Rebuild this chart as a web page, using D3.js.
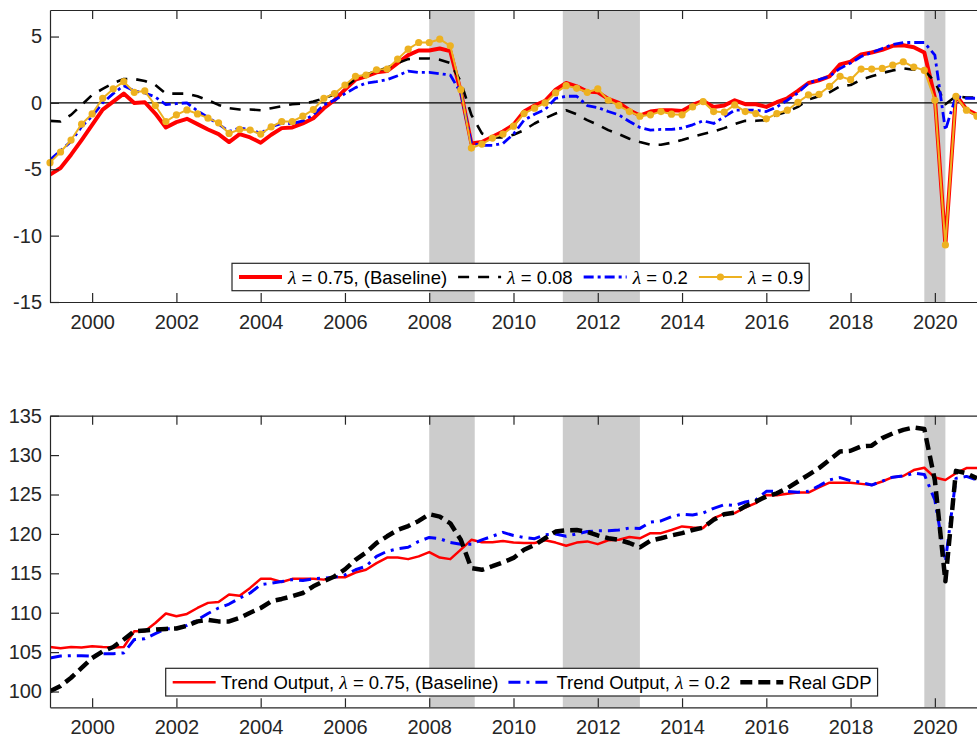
<!DOCTYPE html>
<html><head><meta charset="utf-8">
<script src="https://cdn.jsdelivr.net/npm/d3@7"></script>
<style>
body{margin:0;background:#fff;}
svg{display:block;font-family:"Liberation Sans",Arial,sans-serif;}
</style></head><body>
<svg id="chart" width="977" height="737"></svg>
<script>
// ---------- DATA (quarterly, 1999Q1 .. 2021Q1) ----------
const firstYear = 1999;
const nQuarters = 89;
const quarters = d3.range(nQuarters).map(i => firstYear + i / 4);

const xTicks = [2000, 2002, 2004, 2006, 2008, 2010, 2012, 2014, 2016, 2018, 2020];
const gapTicks = [-15, -10, -5, 0, 5];
const levelTicks = [100, 105, 110, 115, 120, 125, 130, 135];

const recessions = [[2008.0, 2009.08], [2011.17, 2013.0], [2019.75, 2020.25]];

// Top panel: output gap for different lambda
const gap075 = [-5.4, -4.9, -3.9, -2.8, -1.65, -0.5, 0.1, 0.7, 0.0, 0.05, -0.8, -1.85, -1.45, -1.2, -1.6, -2.0, -2.35, -2.95, -2.35, -2.6, -3.0, -2.4, -1.9, -1.85, -1.55, -1.15, -0.4, 0.2, 1.0,
  1.75, 2.0, 2.3, 2.4, 3.0, 3.6, 3.95, 3.95, 4.1, 3.9, 0.85, -3.05, -2.95, -2.55, -2.15, -1.65, -0.65, -0.2, 0.15, 1.0, 1.5, 1.25, 0.85, 0.8, 0.3, 0.0, -0.55, -0.95,
  -0.65, -0.55, -0.55, -0.6, -0.15, 0.15, -0.3, -0.2, 0.2, -0.1, -0.1, -0.3, 0.05, 0.35, 0.9, 1.5, 1.7, 2.0, 2.9, 3.1, 3.65, 3.8, 4.0, 4.3, 4.35, 4.2, 3.8, 0.4, -10.7, 0.6, -0.5, -0.9];
const gap008 = [-1.35, -1.4, -0.9, -0.15, 0.6, 1.05, 1.5, 1.8, 1.8, 1.65, 1.35, 0.7, 0.7, 0.7, 0.5, 0.2, -0.15, -0.4, -0.5, -0.5, -0.55, -0.4, -0.25, -0.1, -0.05, 0.1, 0.35, 0.65, 1.2,
  1.8, 2.15, 2.4, 2.65, 3.0, 3.3, 3.35, 3.35, 3.25, 3.0, 1.6, -0.9, -2.3, -2.6, -2.6, -2.4, -2.05, -1.55, -1.15, -0.8, -0.55, -0.85, -1.3, -1.65, -2.05, -2.35, -2.7, -2.95,
  -3.15, -3.15, -3.0, -2.8, -2.55, -2.35, -2.15, -1.9, -1.6, -1.35, -1.35, -1.3, -0.9, -0.65, -0.3, 0.25, 0.5, 0.8, 1.25, 1.35, 1.75, 2.0, 2.25, 2.45, 2.6, 2.5, 2.45, 1.6, -0.1, 0.5, 0.4, 0.4];
const gap02 = [-4.3, -3.6, -2.9, -1.8, -1.0, 0.0, 0.7, 1.3, 0.9, 0.75, 0.45, -0.13, -0.05, 0.0, -0.6, -1.1, -1.6, -2.15, -1.9, -2.0, -2.3, -1.8, -1.55, -1.55, -1.35, -0.9, -0.15, 0.2, 0.7,
  1.15, 1.5, 1.6, 1.75, 2.05, 2.4, 2.3, 2.3, 2.2, 2.1, 0.75, -3.05, -3.2, -3.2, -3.05, -2.35, -1.3, -0.85, -0.5, 0.35, 0.5, 0.5, -0.2, -0.35, -0.65, -0.9, -1.4, -1.85,
  -2.05, -2.0, -2.0, -1.9, -1.65, -1.35, -1.55, -1.05, -0.55, -0.55, -0.55, -0.65, -0.3, 0.2, 0.75, 1.5, 1.75, 2.0, 2.6, 3.0, 3.5, 3.8, 4.1, 4.4, 4.55, 4.55, 4.55, 3.6, -2.05, 0.5, 0.35, 0.35];
const gap09 = [-4.5, -3.7, -2.8, -1.6, -0.83, 0.35, 1.05, 1.6, 0.8, 0.9, -0.2, -1.4, -0.9, -0.53, -0.83, -1.15, -1.5, -2.3, -2.0, -2.05, -2.35, -1.8, -1.4, -1.4, -1.0, -0.5, 0.35, 0.7, 1.35,
  2.0, 2.1, 2.5, 2.55, 3.3, 4.05, 4.55, 4.55, 4.8, 4.3, 1.0, -3.4, -3.1, -2.65, -2.35, -1.75, -0.8, -0.4, 0.0, 0.75, 1.3, 1.1, 0.8, 1.05, 0.2, -0.2, -0.65, -1.0,
  -0.9, -0.65, -0.85, -0.9, -0.3, 0.1, -0.65, -0.7, -0.15, -0.65, -0.8, -1.2, -0.8, -0.55, 0.05, 0.6, 0.65, 1.25, 2.0, 1.75, 2.55, 2.55, 2.6, 2.85, 3.1, 2.7, 2.45, 0.2, -10.7, 0.5, -0.55, -1.0];

// Bottom panel: trend output and real GDP (index)
const trend075 = [105.66, 105.5, 105.65, 105.6, 105.75, 105.65, 105.6, 105.65, 107.65, 107.65, 108.7, 109.9, 109.55, 109.85, 110.6, 111.25, 111.35, 112.3, 112.15, 113.15, 114.3, 114.3, 113.9, 114.3, 114.3, 114.3, 114.2, 114.5, 114.5,
  115.1, 115.45, 116.3, 117.0, 117.0, 116.8, 117.15, 117.7, 117.0, 116.8, 118.0, 119.25, 118.95, 118.95, 119.1, 118.9, 118.85, 118.85, 119.2, 118.9, 118.5, 118.9, 119.05, 118.7, 119.2, 119.25, 119.6, 119.45,
  120.1, 120.1, 120.5, 120.95, 120.8, 120.75, 122.0, 122.55, 122.65, 123.35, 123.9, 124.95, 124.9, 125.1, 125.25, 125.25, 125.9, 126.5, 126.5, 126.5, 126.35, 126.2, 126.65, 127.2, 127.35, 128.1, 128.4, 127.15, 126.85, 127.7, 128.35, 128.35];
const trend02 = [104.25, 104.5, 104.55, 104.55, 104.5, 104.8, 104.8, 104.9, 106.6, 106.7, 107.35, 107.95, 108.0, 108.4, 109.1, 109.9, 110.6, 111.1, 111.85, 112.5, 113.55, 113.75, 113.95, 114.2, 114.1, 114.3, 114.4, 114.5, 114.8,
  115.45, 115.9, 117.15, 117.8, 118.1, 118.3, 119.05, 119.55, 119.4, 118.9, 118.7, 118.7, 119.25, 119.7, 120.2, 119.8, 119.55, 119.4, 119.9, 120.0, 119.7, 120.0, 120.3, 120.4, 120.4, 120.5, 120.75, 120.7,
  121.5, 121.65, 122.2, 122.5, 122.4, 122.65, 123.25, 123.7, 123.6, 124.05, 124.3, 125.4, 125.4, 125.4, 125.3, 125.4, 126.1, 126.85, 127.15, 126.75, 126.55, 126.2, 126.7, 127.2, 127.35, 127.7, 127.55, 124.3, 116.5, 127.05, 127.3, 126.85];
const realGDP = [100.05, 100.7, 101.75, 103.0, 104.25, 105.1, 105.65, 106.6, 107.65, 107.75, 107.85, 107.95, 108.0, 108.35, 108.9, 109.1, 108.9, 108.9, 109.35, 110.0, 110.6, 111.45, 111.75, 112.1, 112.5, 113.35, 114.0, 114.6, 115.5,
  116.7, 117.65, 118.85, 119.7, 120.5, 121.0, 121.65, 122.5, 122.2, 121.35, 119.25, 115.65, 115.45, 115.9, 116.4, 116.95, 118.0, 118.6, 119.45, 120.3, 120.45, 120.5, 120.25, 119.8, 119.45, 119.25, 118.85, 118.3,
  119.15, 119.45, 119.8, 120.1, 120.5, 120.8, 121.8, 122.5, 122.7, 123.5, 124.1, 124.75, 125.15, 125.8, 126.65, 127.5, 128.35, 129.4, 130.45, 130.55, 131.1, 131.2, 132.15, 132.75, 133.2, 133.5, 133.3, 126.8, 114.0, 128.0, 127.7, 127.05];

// ---------- DRAWING ----------
const svg = d3.select('#chart');
const AX = '#262626';
const x = d3.scaleLinear().domain([1999, 2021]).range([50, 977]);

const topSeries = [
  {values: gap075, color: '#ff0000', width: 4, dash: null, label: [['λ', true], [' = 0.75, (Baseline)', false]]},
  {values: gap008, color: '#000000', width: 2.6, dash: '11,9', label: [['λ', true], [' = 0.08', false]]},
  {values: gap02, color: '#0000ff', width: 2.8, dash: '10,4,3,4', label: [['λ', true], [' = 0.2', false]]},
  {values: gap09, color: '#EDB120', width: 2, dash: null, marker: true, label: [['λ', true], [' = 0.9', false]]}
];
const botSeries = [
  {values: trend075, color: '#ff0000', width: 2.5, dash: null, label: [['Trend Output,  ', false], ['λ', true], [' = 0.75, (Baseline)', false]]},
  {values: trend02, color: '#0000ff', width: 3, dash: '12,6,3,6', label: [['Trend Output,  ', false], ['λ', true], [' = 0.2', false]]},
  {values: realGDP, color: '#000000', width: 4.5, dash: '12,6', label: [['Real GDP', false]]}
];

function drawPanel(cfg) {
  const g = svg.append('g');
  const y = d3.scaleLinear().domain(cfg.yDomain).range([cfg.bottom, cfg.top]);
  const clipId = 'clip' + cfg.id;
  g.append('clipPath').attr('id', clipId).append('rect')
    .attr('x', x.range()[0]).attr('y', cfg.top)
    .attr('width', x.range()[1] - x.range()[0]).attr('height', cfg.bottom - cfg.top);

  g.selectAll('rect.rec').data(recessions).join('rect').attr('class', 'rec')
    .attr('x', d => x(d[0])).attr('width', d => x(d[1]) - x(d[0]))
    .attr('y', cfg.top).attr('height', cfg.bottom - cfg.top).attr('fill', '#cccccc');

  if (cfg.zeroLine) {
    g.append('line').attr('x1', x.range()[0]).attr('x2', x.range()[1])
      .attr('y1', y(0)).attr('y2', y(0)).attr('stroke', '#000').attr('stroke-width', 1.2);
  }

  const plot = g.append('g').attr('clip-path', `url(#${clipId})`);
  const line = d3.line().x((d, i) => x(quarters[i])).y(d => y(d));
  cfg.series.forEach(s => {
    plot.append('path').datum(s.values).attr('d', line)
      .attr('fill', 'none').attr('stroke', s.color).attr('stroke-width', s.width)
      .attr('stroke-dasharray', s.dash).attr('stroke-linejoin', 'round');
    if (s.marker) {
      g.append('g').selectAll('circle').data(s.values).join('circle')
        .attr('cx', (d, i) => x(quarters[i])).attr('cy', d => y(d)).attr('r', 3.6)
        .attr('fill', s.color);
    }
  });

  // axes
  const styleAxis = a => {
    a.select('.domain').attr('stroke', AX).attr('stroke-width', 1.2);
    a.selectAll('.tick line').attr('stroke', AX).attr('stroke-width', 1.2);
    a.selectAll('.tick text').attr('fill', AX).attr('font-size', 20)
      .attr('font-family', '"Liberation Sans", Arial, sans-serif');
  };
  g.append('g').attr('transform', `translate(0,${cfg.bottom})`)
    .call(d3.axisBottom(x).tickValues(xTicks).tickSize(-9).tickSizeOuter(0).tickPadding(13).tickFormat(d3.format('d')))
    .call(styleAxis);
  g.append('g').attr('transform', `translate(0,${cfg.top})`)
    .call(d3.axisTop(x).tickValues(xTicks).tickSize(-9).tickSizeOuter(0).tickFormat(''))
    .call(styleAxis);
  g.append('g').attr('transform', `translate(${x.range()[0]},0)`)
    .call(d3.axisLeft(y).tickValues(cfg.yTicks).tickSize(-9).tickSizeOuter(0).tickPadding(8).tickFormat(d => String(d)))
    .call(styleAxis);

  // legend
  const L = cfg.legend;
  const lg = g.append('g');
  const box = lg.append('rect').attr('x', L.x).attr('y', L.y).attr('height', L.h)
    .attr('fill', '#fff').attr('stroke', AX).attr('stroke-width', 1.2);
  const cy = L.y + L.h / 2;
  let cx = L.x + 7;
  cfg.series.forEach(s => {
    lg.append('line').attr('x1', cx).attr('x2', cx + L.sample).attr('y1', cy).attr('y2', cy)
      .attr('stroke', s.color).attr('stroke-width', s.width).attr('stroke-dasharray', s.dash);
    if (s.marker) lg.append('circle').attr('cx', cx + L.sample / 2).attr('cy', cy).attr('r', 3.6).attr('fill', s.color);
    const t = lg.append('text').attr('x', cx + L.textOff).attr('y', cy + 6.5)
      .attr('font-size', 18.5).attr('fill', '#000');
    s.label.forEach(([str, it]) => {
      const ts = t.append('tspan').text(str);
      if (it) ts.attr('font-family', '"Liberation Serif", serif').attr('font-style', 'italic').attr('font-size', 19.5);
    });
    cx = cx + L.textOff + t.node().getComputedTextLength() + L.gap;
  });
  box.attr('width', cx - L.gap + 6 - L.x);
}

drawPanel({id: 'top', top: 10, bottom: 302, yDomain: [-15, 7], yTicks: gapTicks, zeroLine: true,
  series: topSeries, legend: {x: 232, y: 263.3, h: 27.4, sample: 43, textOff: 49, gap: 11}});
drawPanel({id: 'bot', top: 415.7, bottom: 707.3, yDomain: [98, 135], yTicks: levelTicks, zeroLine: false,
  series: botSeries, legend: {x: 165.7, y: 668.3, h: 27.7, sample: 43, textOff: 48, gap: 10}});
</script>
</body></html>
